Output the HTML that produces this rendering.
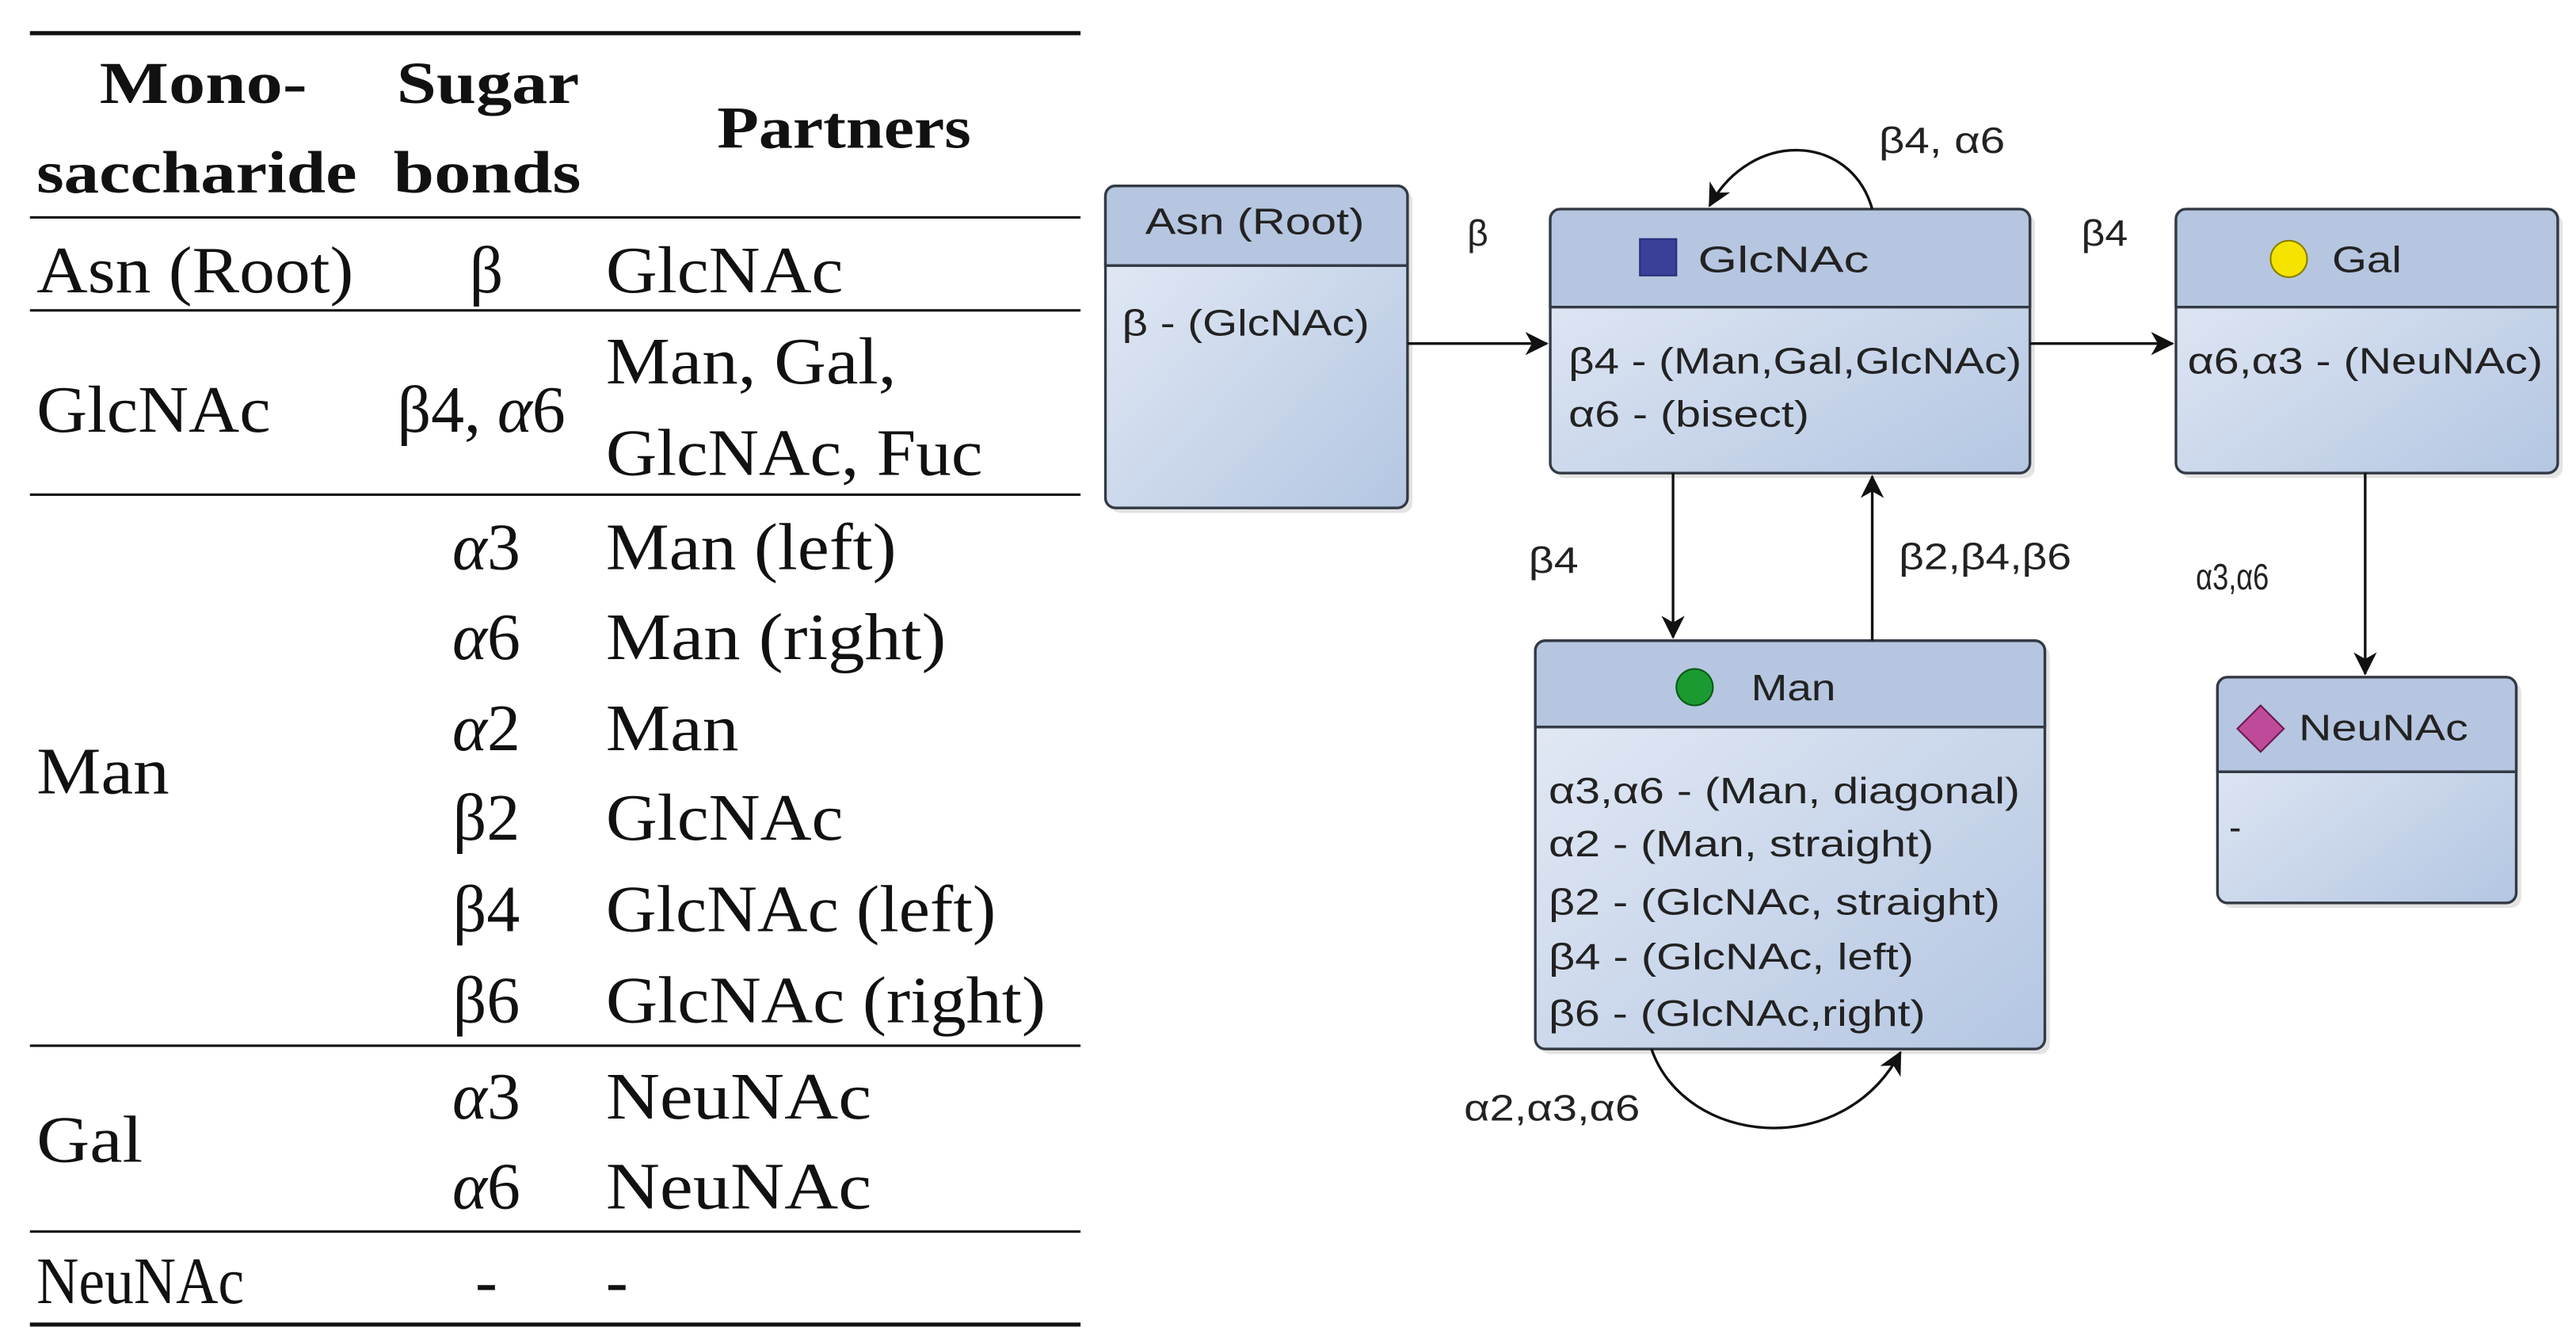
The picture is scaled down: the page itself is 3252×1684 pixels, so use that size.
<!DOCTYPE html>
<html><head><meta charset="utf-8"><style>html,body{margin:0;padding:0;background:#fff}svg{display:block}</style></head>
<body>
<svg width="3252" height="1684" viewBox="0 0 1552 803.7" xmlns="http://www.w3.org/2000/svg">
<defs>
<linearGradient id="bg" x1="0" y1="0" x2="1" y2="1"><stop offset="0" stop-color="#e6ecf6"/><stop offset="1" stop-color="#b4c6e2"/></linearGradient>
<marker id="ah2" markerWidth="14" markerHeight="14" refX="13" refY="7" orient="auto" markerUnits="userSpaceOnUse"><path d="M0,0 L14,7 L0,14 L4,7 Z" fill="#111"/></marker>
</defs>
<!-- TABLE -->
<g font-family="Liberation Serif, serif" fill="#111">
<line x1="18" y1="20" x2="651" y2="20" stroke="#111" stroke-width="2.5"/>
<line x1="18" y1="131" x2="651" y2="131" stroke="#111" stroke-width="1.5"/>
<line x1="18" y1="187" x2="651" y2="187" stroke="#111" stroke-width="1.5"/>
<line x1="18" y1="298" x2="651" y2="298" stroke="#111" stroke-width="1.5"/>
<line x1="18" y1="630" x2="651" y2="630" stroke="#111" stroke-width="1.5"/>
<line x1="18" y1="742" x2="651" y2="742" stroke="#111" stroke-width="1.5"/>
<line x1="18" y1="798" x2="651" y2="798" stroke="#111" stroke-width="2.5"/>
<g font-weight="bold" font-size="36" lengthAdjust="spacingAndGlyphs">
<text x="60" y="62" textLength="125" lengthAdjust="spacingAndGlyphs">Mono-</text>
<text x="22" y="116" textLength="193" lengthAdjust="spacingAndGlyphs">saccharide</text>
<text x="239" y="62" textLength="110" lengthAdjust="spacingAndGlyphs">Sugar</text>
<text x="237" y="116" textLength="113" lengthAdjust="spacingAndGlyphs">bonds</text>
<text x="432" y="89" textLength="153" lengthAdjust="spacingAndGlyphs">Partners</text>
</g>
<g font-size="40">
<text x="22" y="176" textLength="191" lengthAdjust="spacingAndGlyphs">Asn (Root)</text>
<text x="22" y="260" textLength="141" lengthAdjust="spacingAndGlyphs">GlcNAc</text>
<text x="22" y="478" textLength="80" lengthAdjust="spacingAndGlyphs">Man</text>
<text x="22" y="700" textLength="64" lengthAdjust="spacingAndGlyphs">Gal</text>
<text x="22" y="785" textLength="125" lengthAdjust="spacingAndGlyphs">NeuNAc</text>
<g text-anchor="middle">
<text x="293" y="176">β</text>
<text x="290" y="260">β4, <tspan font-style="italic">α</tspan>6</text>
<text x="293" y="343"><tspan font-style="italic">α</tspan>3</text>
<text x="293" y="397"><tspan font-style="italic">α</tspan>6</text>
<text x="293" y="452"><tspan font-style="italic">α</tspan>2</text>
<text x="293" y="506">β2</text>
<text x="293" y="561">β4</text>
<text x="293" y="616">β6</text>
<text x="293" y="674"><tspan font-style="italic">α</tspan>3</text>
<text x="293" y="728"><tspan font-style="italic">α</tspan>6</text>
<text x="293" y="785">-</text>
</g>
<text x="365" y="176" textLength="143" lengthAdjust="spacingAndGlyphs">GlcNAc</text>
<text x="365" y="231" textLength="175" lengthAdjust="spacingAndGlyphs">Man, Gal,</text>
<text x="365" y="286" textLength="227" lengthAdjust="spacingAndGlyphs">GlcNAc, Fuc</text>
<text x="365" y="343" textLength="175" lengthAdjust="spacingAndGlyphs">Man (left)</text>
<text x="365" y="397" textLength="205" lengthAdjust="spacingAndGlyphs">Man (right)</text>
<text x="365" y="452" textLength="80" lengthAdjust="spacingAndGlyphs">Man</text>
<text x="365" y="506" textLength="143" lengthAdjust="spacingAndGlyphs">GlcNAc</text>
<text x="365" y="561" textLength="235" lengthAdjust="spacingAndGlyphs">GlcNAc (left)</text>
<text x="365" y="616" textLength="265" lengthAdjust="spacingAndGlyphs">GlcNAc (right)</text>
<text x="365" y="674" textLength="160" lengthAdjust="spacingAndGlyphs">NeuNAc</text>
<text x="365" y="728" textLength="160" lengthAdjust="spacingAndGlyphs">NeuNAc</text>
<text x="365" y="785">-</text>
</g>
</g>
<!-- DIAGRAM -->
<g font-family="Liberation Sans, sans-serif" fill="#222" font-size="22">
<g stroke="#333a44" stroke-width="1.6">
<rect x="669" y="115" width="182" height="194" rx="6" fill="#c8c8c8" stroke="none" opacity="0.5"/>
<rect x="666" y="112" width="182" height="194" rx="6" fill="url(#bg)"/>
<path d="M666,160 V118 a6,6 0 0 1 6,-6 H842 a6,6 0 0 1 6,6 V160 Z" fill="#b6c6e0"/>
<line x1="666" y1="160" x2="848" y2="160"/>

<rect x="937" y="129" width="289" height="159" rx="6" fill="#c8c8c8" stroke="none" opacity="0.5"/>
<rect x="934" y="126" width="289" height="159" rx="6" fill="url(#bg)"/>
<path d="M934,185 V132 a6,6 0 0 1 6,-6 H1217 a6,6 0 0 1 6,6 V185 Z" fill="#b6c6e0"/>
<line x1="934" y1="185" x2="1223" y2="185"/>

<rect x="1314" y="129" width="230" height="159" rx="6" fill="#c8c8c8" stroke="none" opacity="0.5"/>
<rect x="1311" y="126" width="230" height="159" rx="6" fill="url(#bg)"/>
<path d="M1311,185 V132 a6,6 0 0 1 6,-6 H1535 a6,6 0 0 1 6,6 V185 Z" fill="#b6c6e0"/>
<line x1="1311" y1="185" x2="1541" y2="185"/>

<rect x="928" y="389" width="307" height="246" rx="6" fill="#c8c8c8" stroke="none" opacity="0.5"/>
<rect x="925" y="386" width="307" height="246" rx="6" fill="url(#bg)"/>
<path d="M925,438 V392 a6,6 0 0 1 6,-6 H1226 a6,6 0 0 1 6,6 V438 Z" fill="#b6c6e0"/>
<line x1="925" y1="438" x2="1232" y2="438"/>

<rect x="1339" y="411" width="180" height="136" rx="6" fill="#c8c8c8" stroke="none" opacity="0.5"/>
<rect x="1336" y="408" width="180" height="136" rx="6" fill="url(#bg)"/>
<path d="M1336,465 V414 a6,6 0 0 1 6,-6 H1510 a6,6 0 0 1 6,6 V465 Z" fill="#b6c6e0"/>
<line x1="1336" y1="465" x2="1516" y2="465"/>
</g>
<rect x="988" y="144" width="22" height="22" fill="#3a3f9a" stroke="#2a2f7a"/>
<circle cx="1379" cy="156" r="11" fill="#f5e400" stroke="#8a8000"/>
<circle cx="1021" cy="414" r="11" fill="#1a9a30" stroke="#0b5a18"/>
<path d="M1362,425 L1376,439 L1362,453 L1348,439 Z" fill="#c04a9a" stroke="#6a1a50"/>
<text x="690" y="141" textLength="132" lengthAdjust="spacingAndGlyphs">Asn (Root)</text>
<text x="1023" y="164" textLength="103" lengthAdjust="spacingAndGlyphs">GlcNAc</text>
<text x="1405" y="164" textLength="42" lengthAdjust="spacingAndGlyphs">Gal</text>
<text x="1055" y="422" textLength="51" lengthAdjust="spacingAndGlyphs">Man</text>
<text x="1385" y="446" textLength="102" lengthAdjust="spacingAndGlyphs">NeuNAc</text>
<text x="676" y="202" textLength="149" lengthAdjust="spacingAndGlyphs">β - (GlcNAc)</text>
<text x="945" y="225" textLength="273" lengthAdjust="spacingAndGlyphs">β4 - (Man,Gal,GlcNAc)</text>
<text x="945" y="257" textLength="145" lengthAdjust="spacingAndGlyphs">α6 - (bisect)</text>
<text x="1318" y="225" textLength="214" lengthAdjust="spacingAndGlyphs">α6,α3 - (NeuNAc)</text>
<text x="933" y="484" textLength="284" lengthAdjust="spacingAndGlyphs">α3,α6 - (Man, diagonal)</text>
<text x="933" y="516" textLength="232" lengthAdjust="spacingAndGlyphs">α2 - (Man, straight)</text>
<text x="933" y="551" textLength="272" lengthAdjust="spacingAndGlyphs">β2 - (GlcNAc, straight)</text>
<text x="933" y="584" textLength="220" lengthAdjust="spacingAndGlyphs">β4 - (GlcNAc, left)</text>
<text x="933" y="618" textLength="227" lengthAdjust="spacingAndGlyphs">β6 - (GlcNAc,right)</text>
<text x="1343" y="506">-</text>
<g stroke="#111" stroke-width="1.6" fill="none">
<line x1="848" y1="207" x2="932" y2="207" marker-end="url(#ah2)"/>
<line x1="1223" y1="207" x2="1309" y2="207" marker-end="url(#ah2)"/>
<line x1="1008" y1="285" x2="1008" y2="384" marker-end="url(#ah2)"/>
<line x1="1128" y1="386" x2="1128" y2="287" marker-end="url(#ah2)"/>
<line x1="1425" y1="285" x2="1425" y2="406" marker-end="url(#ah2)"/>
<path d="M1128,126 C1115,80 1055,78 1030,124" marker-end="url(#ah2)"/>
<path d="M995,632 C1015,690 1110,700 1145,634" marker-end="url(#ah2)"/>
</g>
<text x="884" y="148">β</text>
<text x="1254" y="148" textLength="28" lengthAdjust="spacingAndGlyphs">β4</text>
<text x="1132" y="92" textLength="76" lengthAdjust="spacingAndGlyphs">β4, α6</text>
<text x="921" y="345" textLength="30" lengthAdjust="spacingAndGlyphs">β4</text>
<text x="1144" y="343" textLength="104" lengthAdjust="spacingAndGlyphs">β2,β4,β6</text>
<text x="1323" y="355" textLength="44" lengthAdjust="spacingAndGlyphs">α3,α6</text>
<text x="882" y="675" textLength="106" lengthAdjust="spacingAndGlyphs">α2,α3,α6</text>
</g>
</svg>
</body></html>
